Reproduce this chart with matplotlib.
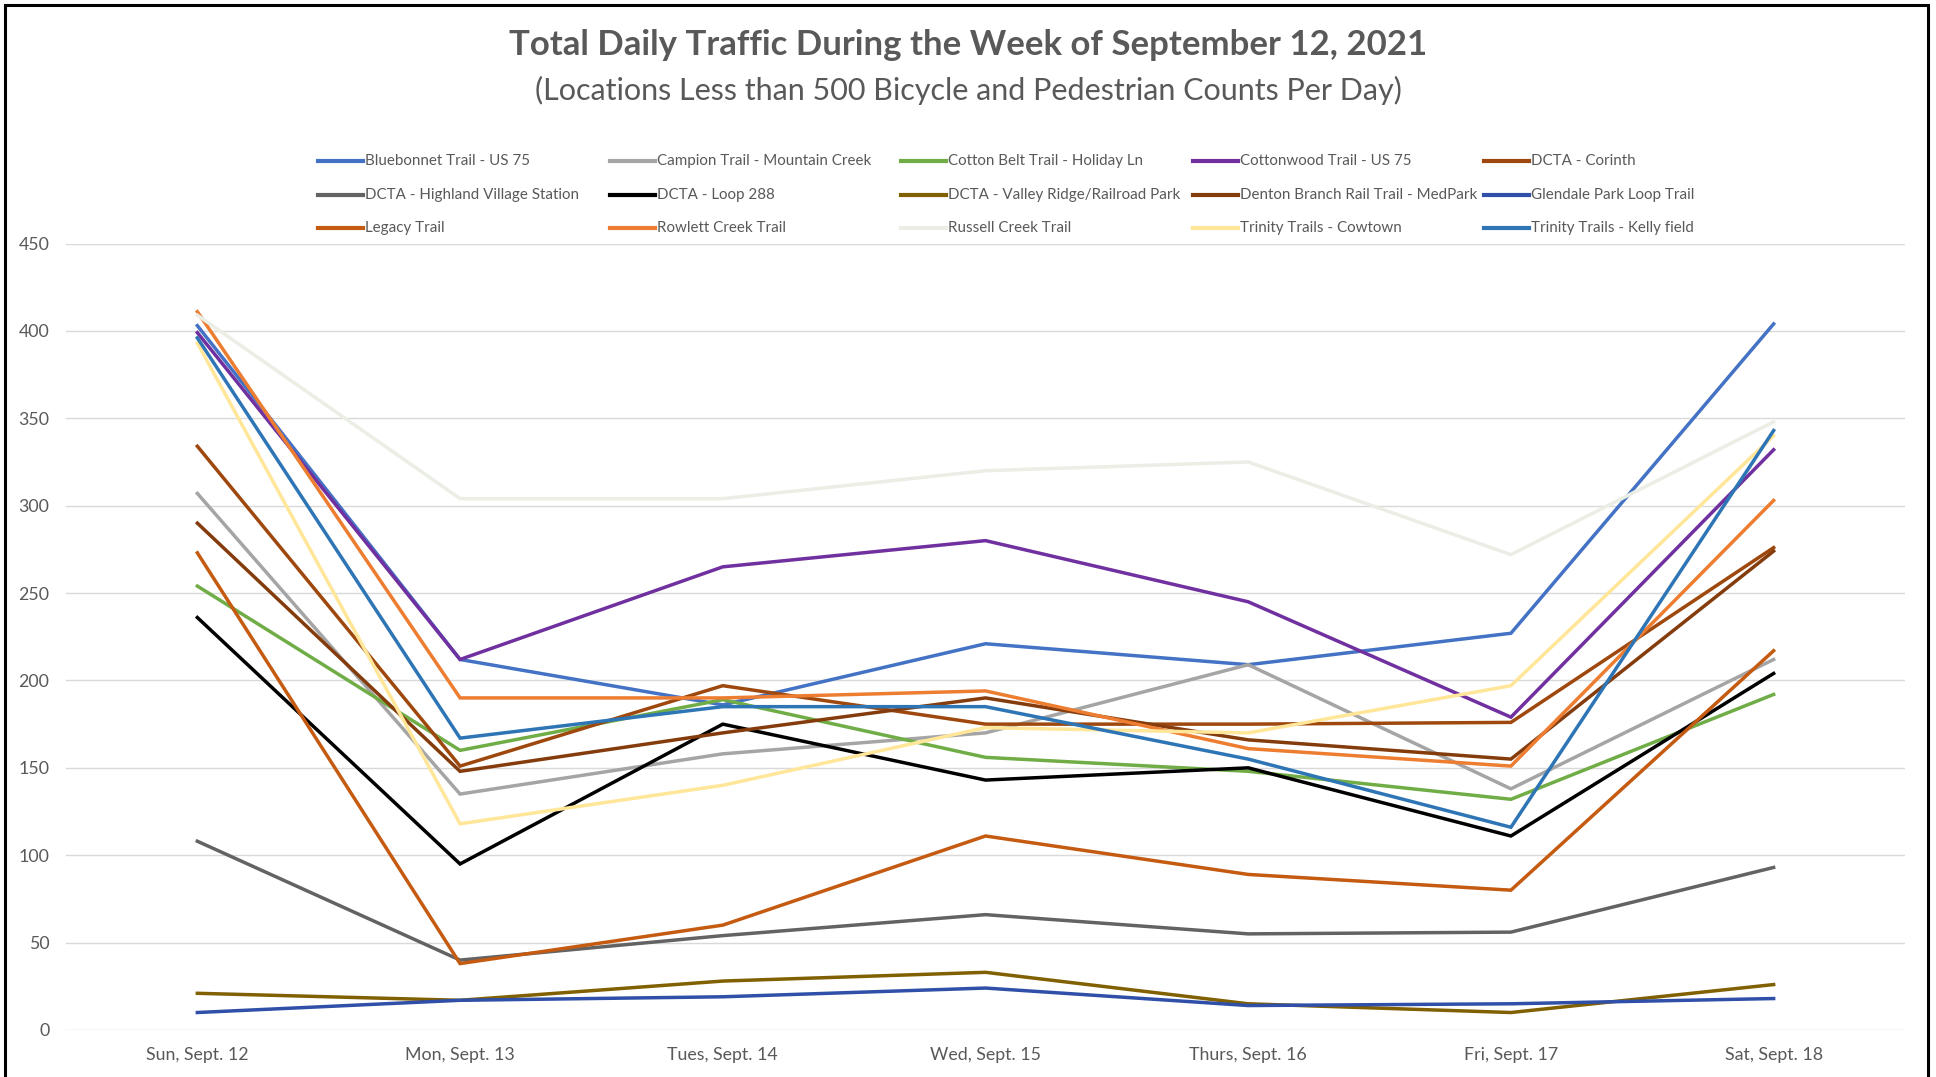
import matplotlib
matplotlib.use("Agg")
import matplotlib.pyplot as plt
from matplotlib.lines import Line2D
from matplotlib.patches import Rectangle

plt.rcParams["font.family"] = ["Lato", "DejaVu Sans"]

days = ["Sun, Sept. 12", "Mon, Sept. 13", "Tues, Sept. 14", "Wed, Sept. 15",
        "Thurs, Sept. 16", "Fri, Sept. 17", "Sat, Sept. 18"]

# daily totals per location
bluebonnet = [403, 212, 186, 221, 209, 227, 404]
campion = [307, 135, 158, 170, 209, 138, 212]
cotton_belt = [254, 160, 189, 156, 148, 132, 192]
cottonwood = [399, 212, 265, 280, 245, 179, 332]
dcta_corinth = [334, 151, 197, 175, 175, 176, 276]
dcta_highland = [108, 40, 54, 66, 55, 56, 93]
dcta_loop288 = [236, 95, 175, 143, 150, 111, 204]
dcta_valley = [21, 17, 28, 33, 15, 10, 26]
denton_medpark = [290, 148, 170, 190, 166, 155, 274]
glendale = [10, 17, 19, 24, 14, 15, 18]
legacy = [273, 38, 60, 111, 89, 80, 217]
rowlett = [411, 190, 190, 194, 161, 151, 303]
russell = [409, 304, 304, 320, 325, 272, 348]
cowtown = [393, 118, 140, 173, 170, 197, 340]
kelly = [396, 167, 185, 185, 155, 116, 343]

names = ["Bluebonnet Trail - US 75", "Campion Trail - Mountain Creek",
         "Cotton Belt Trail - Holiday Ln", "Cottonwood Trail - US 75",
         "DCTA - Corinth", "DCTA - Highland Village Station", "DCTA - Loop 288",
         "DCTA - Valley Ridge/Railroad Park",
         "Denton Branch Rail Trail - MedPark", "Glendale Park Loop Trail",
         "Legacy Trail", "Rowlett Creek Trail", "Russell Creek Trail",
         "Trinity Trails - Cowtown", "Trinity Trails - Kelly field"]
series = [bluebonnet, campion, cotton_belt, cottonwood, dcta_corinth,
          dcta_highland, dcta_loop288, dcta_valley, denton_medpark, glendale,
          legacy, rowlett, russell, cowtown, kelly]
colors = ["#4472C4", "#A5A5A5", "#70AD47", "#7030A0", "#9E480E",
          "#636363", "#000000", "#806000", "#843C0C", "#2F4FA8",
          "#C55A11", "#ED7D31", "#EAEEE5", "#FFE699", "#2E75B6"]

W, H = 1936, 1077
fig = plt.figure(figsize=(W / 100, H / 100), dpi=100)
left, right, bottom, top = 66, 1905, 1030, 243.5
ax = fig.add_axes([left / W, 1 - bottom / H, (right - left) / W,
                   (bottom - top) / H])

x = list(range(len(days)))
for vals, c in zip(series, colors):
    ax.plot(x, vals, color=c, lw=2.5, solid_joinstyle="miter")

ax.set_xlim(-0.5, len(days) - 0.5)
ax.set_ylim(0, 450)
ax.set_yticks(range(0, 451, 50))
ax.set_xticks(x, days)
ax.grid(axis="y", color="#D9D9D9", lw=1)
ax.set_axisbelow(True)
for s in ax.spines.values():
    s.set_visible(False)
ax.tick_params(length=0, labelsize=12.8, colors="#595959")
ax.tick_params(axis="y", pad=12)
ax.tick_params(axis="x", pad=12.5)

fig.text(0.5, 1 - 45 / H, "Total Daily Traffic During the Week of September 12, 2021",
         ha="center", va="center", fontsize=25, fontweight="bold", color="#595959")
fig.text(0.5, 1 - 90 / H,
         "(Locations Less than 500 Bicycle and Pedestrian Counts Per Day)",
         ha="center", va="center", fontsize=22, color="#595959")

# legend, laid out like Excel: 5 evenly spaced columns, 3 rows
col_x = [318, 610, 901, 1193, 1484]
row_y = [161, 195, 228]
for i, (name, c) in enumerate(zip(names, colors)):
    cx = col_x[i % 5]
    cy = row_y[i // 5]
    fig.add_artist(Line2D([cx / W, (cx + 45) / W], [1 - cy / H, 1 - cy / H],
                          color=c, lw=3, transform=fig.transFigure))
    fig.text((cx + 47) / W, 1 - cy / H, name, ha="left", va="center",
             fontsize=10.9, color="#595959")

fig.add_artist(Rectangle((5 / W, -0.05), (1928 - 5) / W, 1.05 - 5 / H,
                         transform=fig.transFigure, fill=False,
                         edgecolor="black", lw=2.2))

fig.savefig("out.png", dpi=100)
